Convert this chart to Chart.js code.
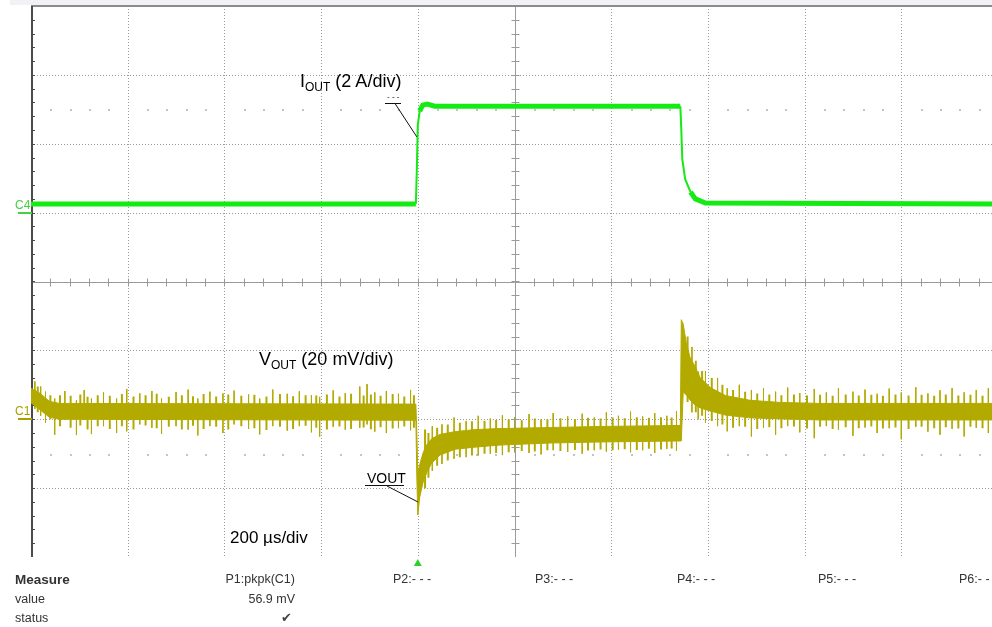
<!DOCTYPE html>
<html>
<head>
<meta charset="utf-8">
<script src="https://cdn.jsdelivr.net/npm/chart.js@4.4.0/dist/chart.umd.min.js"></script>
<style>
    body { margin: 0; width: 992px; height: 627px; overflow: hidden; background: #fff; position: relative;
           font-family: Arial, "Liberation Sans", sans-serif; }
    #scope { position: absolute; left: 0; top: 0; }
    .lbl { position: absolute; white-space: nowrap; color: #000; font-size: 18px; }
    .sub { font-size: 12px; position: relative; top: 4px; }
    .tbl { position: absolute; white-space: nowrap; color: #333; font-size: 12.5px; }
    .r { text-align: right; width: 120px; }
</style>
</head>
<body>
<canvas id="scope" width="1000" height="627"></canvas>

<div class="lbl" style="left:300px; top:71px;">I<span class="sub">OUT</span> (2 A/div)</div>
<div class="lbl" style="left:259px; top:349px;">V<span class="sub">OUT</span> (20 mV/div)</div>
<div class="lbl" style="left:230px; top:528px; font-size:17px;">200 µs/div</div>
<div class="lbl" style="left:387px; top:92px; font-size:8px;">- - -</div>
<div class="lbl" style="left:367px; top:470px; font-size:14px;">VOUT</div>

<div class="tbl" style="left:15px; top:572px; font-weight:bold; font-size:13.5px;">Measure</div>
<div class="tbl" style="left:15px; top:592px;">value</div>
<div class="tbl" style="left:15px; top:611px;">status</div>
<div class="tbl r" style="left:175px; top:572px;">P1:pkpk(C1)</div>
<div class="tbl r" style="left:175px; top:592px;">56.9 mV</div>
<div class="tbl" style="left:281px; top:610px; color:#444;">&#10004;</div>
<div class="tbl" style="left:393px; top:572px;">P2:- - -</div>
<div class="tbl" style="left:535px; top:572px;">P3:- - -</div>
<div class="tbl" style="left:677px; top:572px;">P4:- - -</div>
<div class="tbl" style="left:818px; top:572px;">P5:- - -</div>
<div class="tbl" style="left:959px; top:572px;">P6:- - -</div>

<script>
// Time base: 200 us/div, 10 divisions
const xTicks = [0, 200, 400, 600, 800, 1000, 1200, 1400, 1600, 1800, 2000];
// Vertical divisions (-4 .. 4)
const yTicks = [-4, -3, -2, -1, 0, 1, 2, 3, 4];

// C4: output current (A), 2 A/div
const iTime = [0, 796, 798, 800, 804, 810, 820, 835, 1343, 1345, 1347, 1353, 1364, 1374, 1395, 2000];
const iAmps = [0.25, 0.25, 1.25, 2.55, 2.95, 3.12, 3.15, 3.09, 3.09, 2.4, 1.55, 0.97, 0.6, 0.4, 0.28, 0.25];

// C1: output voltage deviation (mV), 20 mV/div, edges of the noise band
const vTime = [0, 18, 38, 59, 796, 798, 800, 804, 811, 819, 829, 846, 877, 918, 970, 1074, 1177, 1343,
               1345, 1349, 1355, 1363, 1374, 1384, 1405, 1436, 1487, 1549, 1632, 2000];
const vHigh = [9.0, 7.6, 5.2, 4.6, 4.4, -3.8, -15.5, -13.2, -9.7, -7.3, -5.6, -4.4, -3.6, -3.0, -2.7, -2.4, -2.1, -1.8,
               28.9, 27.6, 22.3, 18.0, 15.1, 12.1, 9.2, 6.9, 5.5, 4.9, 4.6, 4.6];
const vLow  = [4.8, 2.8, 0.6, 0.0, -0.3, -16.8, -27.8, -22.6, -18.3, -15.3, -12.7, -10.4, -8.7, -8.1, -7.5, -6.9, -6.6, -6.3,
               -6.3, 7.9, 7.1, 5.6, 4.1, 3.3, 2.4, 1.2, 0.4, 0.1, -0.2, -0.2];

// Large noise spikes on C1 (time us, top mV, bottom mV)
const spikeTime = [8, 20, 30, 49, 70, 94, 110, 125, 150, 177, 198, 225, 250, 270, 300, 325, 345, 370, 397, 420,
                   450, 473, 500, 530, 555, 580, 597, 625, 650, 680, 695, 711, 735, 760, 785,
                   830, 850, 875, 900, 925, 950, 975, 1000, 1030, 1055, 1080, 1110, 1140, 1165, 1190, 1215, 1240,
                   1265, 1290, 1315, 1335,
                   1367, 1380, 1395, 1420, 1440, 1465, 1490, 1515, 1540, 1565, 1590, 1620, 1645, 1670, 1700, 1725,
                   1750, 1775, 1800, 1830, 1855, 1880, 1905, 1930, 1955, 1980];
const spikeTop = [11, 9.5, 8, 6, 8.2, 5.5, 8.5, 6, 7.8, 6, 8.8, 7.5, 8.2, 6, 7.9, 8.6, 6, 8, 7.5, 8.3,
                  7.2, 6, 8.6, 7.4, 8.1, 7, 6.5, 8.4, 7.6, 9.5, 10.2, 7.8, 8.2, 7.4, 8.5,
                  -2, -1.5, 0.5, -0.5, 1, 0.2, 1.2, 0.5, 1.5, 0, 1.8, 0.8, 1.6, 0.5, 2, 1, 2.2,
                  0.8, 1.8, 1, 2.3,
                  21, 13.8, 14, 12, 9, 10, 8.5, 9, 8, 9.2, 7.6, 8.8, 7.8, 9, 8, 8.6,
                  7.4, 8.9, 7.8, 9.3, 7.5, 8.4, 9, 7.8, 8.5, 9];
const spikeBottom = [3, 1, -1, -4.5, 0, -4.6, 0, -4.3, -2, -4, -3.5, -1.5, -2.5, -4.2, -2, -3, -4.7, -2, -4, -1.5,
                     -2.8, -4.4, -2, -3.3, -2, -3.8, -5, -2.2, -3, -2.5, -1.5, -3.6, -4, -2.6, -3.2,
                     -15, -13, -11.5, -11, -10.5, -10, -10.4, -9.6, -9.8, -10.2, -9, -9.5, -10, -9, -9.4, -8.8, -9.6,
                     -9, -9.8, -8.6, -9.2,
                     2, 0, -1, -2, -3.5, -2, -5, -2.5, -4.5, -2, -3.8, -5.5, -2, -3, -4.8, -2.4,
                     -4, -2.6, -5.8, -2.2, -3.6, -4.5, -2.8, -5, -2.5, -4];

// Small noise spikes on C1 (time us, top mV, bottom mV)
const smallTime = [14, 40, 60, 82, 102, 117, 138, 163, 188, 212, 237, 260, 285, 312, 335, 357, 383, 408, 435, 462,
                   487, 515, 542, 568, 590, 612, 638, 662, 688, 703, 723, 748, 772, 792,
                   815, 822, 840, 862, 887, 912, 938, 962, 988, 1015, 1042, 1068, 1095, 1125, 1152, 1178, 1203,
                   1228, 1253, 1278, 1303, 1325,
                   1358, 1375, 1388, 1408, 1430, 1452, 1477, 1502, 1527, 1552, 1578, 1605, 1632, 1658, 1685, 1712,
                   1738, 1762, 1788, 1815, 1842, 1868, 1892, 1918, 1943, 1968, 1992];
const smallTop = [9.5, 7, 7, 6.8, 7.2, 6.5, 7, 6.8, 7.3, 6.6, 7, 7.4, 6.5, 7, 6.7, 7.3, 6.6, 7.2, 6.8, 7.1,
                  6.6, 7.3, 6.7, 7, 6.9, 7.2, 6.6, 7.4, 6.9, 7.2, 6.8, 7.3, 6.6, 7,
                  -3, -4, -2.5, -1.5, -1, -0.6, -0.4, -0.2, 0, -0.3, 0.2, 0, 0.3, 0.1, 0.4, 0.2, 0.5,
                  0.3, 0.6, 0.4, 0.6, 0.5,
                  24, 17, 14, 12, 10, 8.5, 8, 7.5, 7.2, 7, 7.2, 6.9, 7.1, 6.8, 7.2, 6.9,
                  7.1, 6.8, 7.2, 6.9, 7.1, 6.8, 7.2, 6.9, 7.1, 6.8, 7.2];
const smallBottom = [2, 0, -2, -2.5, -1.8, -3, -2, -2.8, -2, -3, -1.8, -2.6, -2.2, -3, -1.9, -2.8, -2.2, -3, -2, -2.6,
                     -3.1, -2.2, -2.8, -1.9, -2.5, -3, -2.1, -2.8, -2.4, -2.9, -2.3, -2.7, -2.1, -2.5,
                     -20, -17, -13.5, -12, -11, -10.5, -10, -9.8, -9.6, -9.2, -9.4, -9, -9.2, -8.9, -9.1, -8.8, -9,
                     -8.7, -8.9, -8.6, -8.8, -8.5,
                     5, 2, 1, -0.5, -1.5, -2.5, -2.2, -2.8, -2.3, -2.6, -2.1, -2.7, -2.2, -2.8, -2.3, -2.6,
                     -2.1, -2.7, -2.4, -2.8, -2.2, -2.6, -2.3, -2.7, -2.2, -2.6, -2.4];

const GREEN = '#14ea14';
const OLIVE = '#b3aa00';

function toPoints(xs, ys) {
    return xs.map((t, i) => ({ x: t, y: ys[i] }));
}

// vertical strokes separated by gaps
function spikePoints(ts, tops, bottoms) {
    const pts = [];
    ts.forEach((t, i) => {
        pts.push({ x: t, y: tops[i] });
        pts.push({ x: t, y: bottoms[i] });
        pts.push({ x: t, y: null });
    });
    return pts;
}

// Oscilloscope graticule, channel markers and annotations
const scopePlugin = {
    id: 'scopeGrid',
    beforeDatasetsDraw(chart) {
        const { ctx, chartArea: a, scales: { x, y } } = chart;
        ctx.save();
        // light strip above the graticule
        ctx.fillStyle = '#f2f2f6';
        ctx.fillRect(10, 0, a.right, a.top - 1);

        // dotted division lines
        ctx.strokeStyle = '#9a9a9a';
        ctx.lineWidth = 1;
        ctx.setLineDash([1, 2]);
        xTicks.forEach(t => {
            if (t === 0 || t === 1000) return;
            const px = Math.round(x.getPixelForValue(t)) + 0.5;
            ctx.beginPath(); ctx.moveTo(px, a.top); ctx.lineTo(px, a.bottom); ctx.stroke();
        });
        yTicks.forEach(d => {
            if (d === 0 || d === 4 || d === -4) return;
            const py = Math.round(y.getPixelForValue(d)) + 0.5;
            ctx.beginPath(); ctx.moveTo(a.left, py); ctx.lineTo(a.right, py); ctx.stroke();
        });
        ctx.setLineDash([]);

        // faint reference dots at +/- 2.5 div
        ctx.fillStyle = '#c4c4c4';
        [2.5, -2.5].forEach(d => {
            const py = Math.round(y.getPixelForValue(d));
            for (let t = 40; t < 2000; t += 40) {
                if (t % 200 === 0) continue;
                ctx.fillRect(Math.round(x.getPixelForValue(t)), py, 2, 2);
            }
        });

        // centre cross with minor ticks
        const cx = Math.round(x.getPixelForValue(1000)) + 0.5;
        const cy = Math.round(y.getPixelForValue(0)) + 0.5;
        ctx.strokeStyle = '#9a9a9a';
        ctx.beginPath();
        ctx.moveTo(a.left, cy); ctx.lineTo(a.right, cy);
        ctx.moveTo(cx, a.top); ctx.lineTo(cx, a.bottom);
        for (let t = 40; t < 2000; t += 40) {
            const px = Math.round(x.getPixelForValue(t)) + 0.5;
            ctx.moveTo(px, cy - 4); ctx.lineTo(px, cy + 4);
        }
        for (let d = -3.8; d < 4; d += 0.2) {
            const py = Math.round(y.getPixelForValue(d)) + 0.5;
            ctx.moveTo(cx - 4, py); ctx.lineTo(cx + 4, py);
        }
        ctx.stroke();

        // top border
        ctx.strokeStyle = '#8c8c8c';
        ctx.lineWidth = 2;
        ctx.beginPath(); ctx.moveTo(a.left, a.top); ctx.lineTo(a.right, a.top); ctx.stroke();

        // left border with ticks
        ctx.strokeStyle = '#4a4a4a';
        ctx.beginPath(); ctx.moveTo(a.left + 1, a.top); ctx.lineTo(a.left + 1, a.bottom); ctx.stroke();
        ctx.lineWidth = 1;
        ctx.beginPath();
        for (let d = -3.8; d < 4; d += 0.2) {
            const py = Math.round(y.getPixelForValue(d)) + 0.5;
            ctx.moveTo(a.left, py); ctx.lineTo(a.left + 4, py);
        }
        ctx.stroke();
        ctx.restore();
    },
    afterDatasetsDraw(chart) {
        const { ctx, chartArea: a, scales: { x, yI, yV } } = chart;
        ctx.save();
        // channel offset markers
        ctx.font = '12px Arial, "Liberation Sans", sans-serif';
        ctx.textBaseline = 'alphabetic';
        const c4 = Math.round(yI.getPixelForValue(0));
        ctx.fillStyle = '#44d044';
        ctx.fillText('C4', 15, c4 - 4);
        ctx.fillRect(18, c4 - 1, 14, 2);
        const c1 = Math.round(yV.getPixelForValue(0));
        ctx.fillStyle = '#a8a000';
        ctx.fillText('C1', 15, c1 - 4);
        ctx.fillRect(18, c1 - 1, 14, 2);

        // trigger marker
        const tx = x.getPixelForValue(800);
        ctx.fillStyle = '#2ccf2c';
        ctx.beginPath();
        ctx.moveTo(tx, a.bottom + 2); ctx.lineTo(tx - 4, a.bottom + 9); ctx.lineTo(tx + 4, a.bottom + 9);
        ctx.closePath(); ctx.fill();

        // label leaders
        ctx.strokeStyle = '#111';
        ctx.lineWidth = 1;
        ctx.beginPath();
        ctx.moveTo(385, 103.5); ctx.lineTo(401, 103.5);
        ctx.moveTo(395, 103.5); ctx.lineTo(x.getPixelForValue(798), yI.getPixelForValue(2.2));
        ctx.moveTo(365, 485.5); ctx.lineTo(404, 485.5);
        ctx.moveTo(387, 486); ctx.lineTo(x.getPixelForValue(800), yV.getPixelForValue(-24));
        ctx.stroke();
        ctx.restore();
    }
};

new Chart(document.getElementById('scope'), {
    type: 'line',
    data: {
        datasets: [
            {
                data: toPoints(vTime, vHigh),
                yAxisID: 'yV',
                borderColor: OLIVE,
                backgroundColor: OLIVE,
                borderWidth: 1,
                fill: '+1'
            },
            {
                data: toPoints(vTime, vLow),
                yAxisID: 'yV',
                borderColor: OLIVE,
                borderWidth: 1,
                fill: false
            },
            {
                data: spikePoints(spikeTime, spikeTop, spikeBottom),
                yAxisID: 'yV',
                borderColor: OLIVE,
                borderWidth: 1,
                spanGaps: false,
                fill: false
            },
            {
                data: spikePoints(smallTime, smallTop, smallBottom),
                yAxisID: 'yV',
                borderColor: OLIVE,
                borderWidth: 2,
                spanGaps: false,
                fill: false
            },
            {
                data: toPoints(iTime, iAmps),
                yAxisID: 'yI',
                borderColor: GREEN,
                borderWidth: 5,
                fill: false,
                segment: {
                    borderWidth: c => Math.abs(c.p1.parsed.y - c.p0.parsed.y) > 0.3 ? 2 : 5
                }
            }
        ]
    },
    options: {
        responsive: false,
        devicePixelRatio: 1,
        animation: false,
        layout: { padding: { left: 31, top: 6, right: 2, bottom: 70 } },
        elements: { point: { radius: 0 }, line: { tension: 0 } },
        scales: {
            x: { type: 'linear', min: 0, max: 2000, display: false },
            y: { type: 'linear', min: -4, max: 4, display: false },
            yI: { type: 'linear', min: -10, max: 6, display: false },
            yV: { type: 'linear', min: -40, max: 120, display: false }
        },
        plugins: {
            legend: { display: false },
            tooltip: { enabled: false }
        }
    },
    plugins: [scopePlugin]
});
</script>
</body>
</html>
